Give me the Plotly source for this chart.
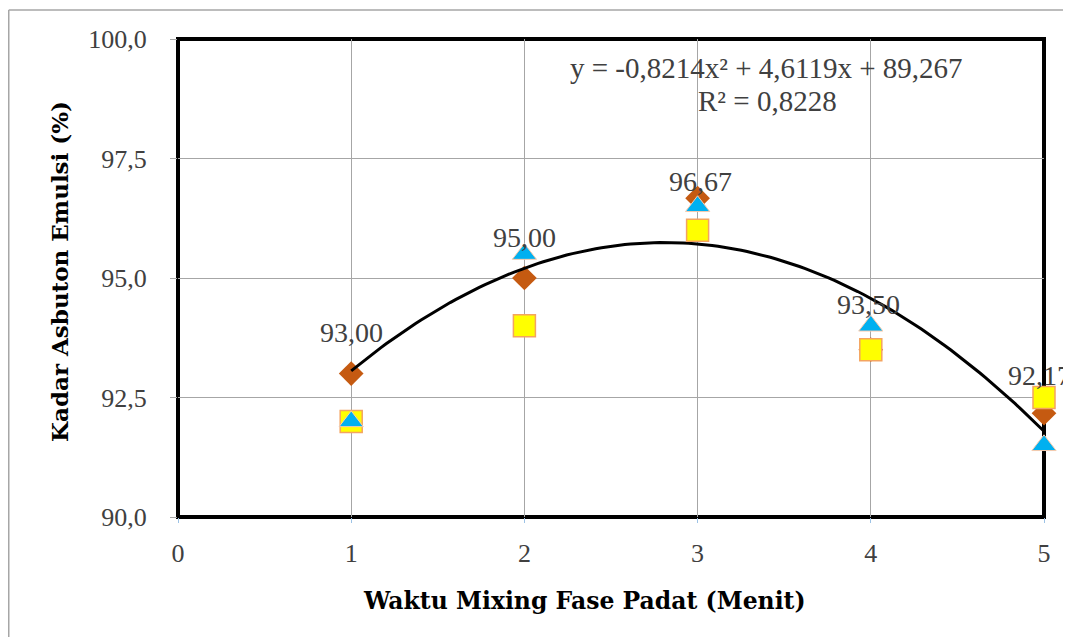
import numpy as np
import plotly.graph_objects as go

# ---- data ----
waktu = [1, 2, 3, 4, 5]
kadar_rata = [93.00, 95.00, 96.67, 93.50, 92.17]   # diamonds (labelled)
kadar_b = [92.0, 95.5, 96.5, 94.0, 91.5]           # triangles
kadar_c = [92.0, 94.0, 96.0, 93.5, 92.5]           # squares
x_ticks = [0, 1, 2, 3, 4, 5]
y_ticks = [90.0, 92.5, 95.0, 97.5, 100.0]
eq_text = "y = -0,8214x² + 4,6119x + 89,267"
r2_text = "R² = 0,8228"
x_title = "Waktu Mixing Fase Padat (Menit)"
y_title = "Kadar Asbuton Emulsi (%)"

# label pixel offsets (style)
label_dx = [0, 0, 3, -2, -5]
label_dy = [41, 41, 17, 45, 38]

# trendline: quadratic fit of the labelled series
coef = np.polyfit(waktu, kadar_rata, 2)
xt = np.linspace(min(waktu), max(waktu), 120)
yt = np.polyval(coef, xt)

FONT = "Liberation Serif"
TFONT = "DejaVu Serif"
fig = go.Figure()

fig.add_trace(go.Scatter(
    x=waktu, y=kadar_rata, mode="markers",
    marker=dict(symbol="diamond", size=19, color="#C55A11", line=dict(width=0)),
    showlegend=False, cliponaxis=False))
fig.add_trace(go.Scatter(
    x=xt, y=yt, mode="lines", line=dict(color="black", width=3),
    showlegend=False, cliponaxis=False))
fig.add_trace(go.Scatter(
    x=waktu, y=kadar_c, mode="markers",
    marker=dict(symbol="square", size=22, color="#FFFF00", line=dict(width=1.5, color="#F4A460")),
    showlegend=False, cliponaxis=False))
fig.add_trace(go.Scatter(
    x=waktu, y=kadar_b, mode="markers",
    marker=dict(symbol="triangle-up", size=21, color="#00B0F0", line=dict(width=1, color="#F8CBAD")),
    showlegend=False, cliponaxis=False))

# page offset (body margin) compensation: page px -> figure px
OFF = 8
W, H = 1071 - OFF, 637 - OFF
L, T = 178 - OFF, 39 - OFF
R = W - (1044 - OFF)
B = H - (517 - OFF)
pw, ph = W - L - R, H - T - B
def px_x(p):
    return (p - OFF - L) / pw
def px_y(p):
    return (H - B - (p - OFF)) / ph

annotations = []
for xi, yi, dx, dy in zip(waktu, kadar_rata, label_dx, label_dy):
    annotations.append(dict(
        x=xi, y=yi, xref="x", yref="y", text=f"{yi:.2f}".replace(".", ","),
        showarrow=False, xshift=dx, yshift=dy, xanchor="center", yanchor="middle",
        font=dict(family=FONT, size=28, color="#404040")))

def paper_text(px, py, text, font, angle=0):
    return dict(x=px_x(px), y=px_y(py), xref="paper", yref="paper", text=text,
                showarrow=False, xanchor="center", yanchor="middle", textangle=angle, font=font)

annotations.append(paper_text(766, 68, eq_text, dict(family=FONT, size=29, color="#404040")))
annotations.append(paper_text(767, 101, r2_text, dict(family=FONT, size=29, color="#404040")))
annotations.append(paper_text(584, 601, f"<b>{x_title}</b>", dict(family=TFONT, size=23.5, color="black")))
annotations.append(paper_text(59, 272, f"<b>{y_title}</b>", dict(family=TFONT, size=23, color="black"), -90))

shapes = [
    # outer chart border (gray)
    dict(type="line", xref="paper", yref="paper", x0=px_x(8.75), y0=px_y(10), x1=px_x(1090), y1=px_y(10),
         line=dict(color="#A6A6A6", width=1.5)),
    dict(type="line", xref="paper", yref="paper", x0=px_x(8.75), y0=px_y(10), x1=px_x(8.75), y1=px_y(660),
         line=dict(color="#A6A6A6", width=1.5)),
    # plot area thick border
    dict(type="rect", xref="paper", yref="paper", x0=0, y0=0, x1=1, y1=1,
         line=dict(color="black", width=4), layer="below"),
]

fig.update_layout(
    width=W, height=H,
    margin=dict(l=L, r=R, t=T, b=B),
    paper_bgcolor="white", plot_bgcolor="white",
    separators=",.",
    annotations=annotations, shapes=shapes,
    xaxis=dict(range=[0, 5], tickvals=x_ticks, showgrid=True, gridcolor="#A6A6A6", gridwidth=1,
               zeroline=False, ticks="outside", ticklen=5, tickcolor="#9DC3E6",
               tickfont=dict(family=FONT, size=26, color="#404040"), ticklabelstandoff=8,
               showline=False),
    yaxis=dict(range=[90, 100], tickvals=y_ticks, tickformat=".1f", showgrid=True,
               gridcolor="#A6A6A6", gridwidth=1, zeroline=False, ticks="outside", ticklen=7,
               tickcolor="#A6A6A6", tickfont=dict(family=FONT, size=26, color="#404040"),
               ticklabelstandoff=18, showline=False),
)

fig.write_html("out.html")
